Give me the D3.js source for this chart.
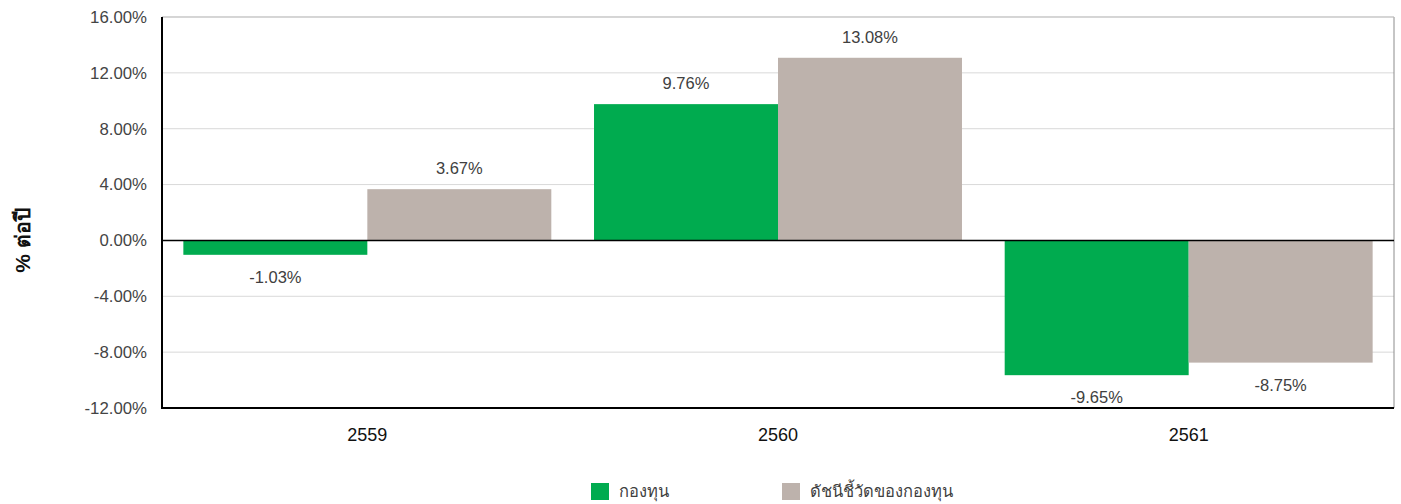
<!DOCTYPE html>
<html>
<head>
<meta charset="utf-8">
<script src="https://cdn.jsdelivr.net/npm/d3@7"></script>
<style>
  html, body { margin: 0; padding: 0; background: #fff; }
  svg { display: block; font-family: "Liberation Sans", Arial, sans-serif; }
</style>
</head>
<body>
<svg id="chart" width="1401" height="504"></svg>
<script>
// Annual returns: fund vs. benchmark
const years = ["2559", "2560", "2561"];
const fundReturns = [-1.03, 9.76, -9.65];
const benchmarkReturns = [3.67, 13.08, -8.75];
const seriesNames = ["กองทุน", "ดัชนีชี้วัดของกองทุน"];
const seriesColors = ["#00ab4f", "#bdb2ac"];
const yTicks = [-12, -8, -4, 0, 4, 8, 12, 16];
const yTitle = "% ต่อปี";

const svg = d3.select("#chart");
const plotL = 162, plotR = 1394, plotT = 17, plotB = 408;

const x0 = d3.scaleBand().domain(years).range([plotL, plotR])
  .paddingInner(0.104).paddingOuter(0.052);
const x1 = d3.scaleBand().domain([0, 1]).range([0, x0.bandwidth()]);
const y = d3.scaleLinear().domain([-12, 16]).range([plotB, plotT]);

// gridlines
svg.append("g").selectAll("line").data(yTicks.filter(t => t !== 0 && t !== -12))
  .join("line")
  .attr("x1", plotL).attr("x2", plotR)
  .attr("y1", d => y(d)).attr("y2", d => y(d))
  .attr("stroke", "#d9d9d9").attr("stroke-width", 1);

// right border
svg.append("line").attr("x1", plotR).attr("x2", plotR)
  .attr("y1", plotT).attr("y2", plotB)
  .attr("stroke", "#8c8c8c").attr("stroke-width", 1);

// y axis labels
const yAxis = d3.axisLeft(y).tickValues(yTicks)
  .tickFormat(d => d.toFixed(2) + "%").tickSize(0).tickPadding(15);
const gy = svg.append("g").attr("transform", `translate(${plotL},0)`).call(yAxis);
gy.select(".domain").remove();
gy.selectAll("text").attr("font-size", 16.8).attr("fill", "#444")
  .attr("font-family", "\"Liberation Sans\", Arial, sans-serif");

// bars
const rows = years.map((yr, i) => ({ yr, vals: [fundReturns[i], benchmarkReturns[i]] }));
const groups = svg.append("g").selectAll("g").data(rows).join("g")
  .attr("transform", d => `translate(${x0(d.yr)},0)`);
groups.selectAll("rect").data(d => d.vals.map((v, k) => ({ v, k })))
  .join("rect")
  .attr("x", d => x1(d.k))
  .attr("width", x1.bandwidth())
  .attr("y", d => y(Math.max(0, d.v)))
  .attr("height", d => Math.abs(y(d.v) - y(0)))
  .attr("fill", d => seriesColors[d.k]);

// value labels
groups.selectAll("text").data(d => d.vals.map((v, k) => ({ v, k })))
  .join("text")
  .attr("x", d => x1(d.k) + x1.bandwidth() / 2)
  .attr("y", d => d.v >= 0 ? y(d.v) - 15 : y(d.v) + 28)
  .attr("text-anchor", "middle")
  .attr("font-size", 16.5).attr("fill", "#404040")
  .text(d => d.v.toFixed(2) + "%");

// top border
svg.append("line").attr("x1", plotL).attr("x2", plotR)
  .attr("y1", plotT).attr("y2", plotT)
  .attr("stroke", "#bfbfbf").attr("stroke-width", 1);

// zero line
svg.append("line").attr("x1", plotL).attr("x2", plotR)
  .attr("y1", y(0)).attr("y2", y(0))
  .attr("stroke", "#000").attr("stroke-width", 1.5);

// left and bottom axis lines
svg.append("line").attr("x1", plotL).attr("x2", plotL)
  .attr("y1", plotT).attr("y2", plotB)
  .attr("stroke", "#000").attr("stroke-width", 2);
svg.append("line").attr("x1", plotL - 1).attr("x2", plotR)
  .attr("y1", plotB).attr("y2", plotB)
  .attr("stroke", "#000").attr("stroke-width", 2);

// x axis labels
const gx = svg.append("g").attr("transform", `translate(0,${plotB})`)
  .call(d3.axisBottom(x0).tickSize(0).tickPadding(20));
gx.select(".domain").remove();
gx.selectAll("text").attr("font-size", 18).attr("fill", "#111")
  .attr("font-family", "\"Liberation Sans\", Arial, sans-serif");

// y title
svg.append("text")
  .attr("transform", `translate(30,${y(0)}) rotate(-90)`)
  .attr("text-anchor", "middle")
  .attr("font-size", 21).attr("font-weight", "bold").attr("fill", "#111")
  .text(yTitle);

// legend
const legendX = [591, 782];
const legend = svg.append("g").selectAll("g").data(seriesNames).join("g")
  .attr("transform", (d, i) => `translate(${legendX[i]},483)`);
legend.append("rect").attr("width", 18).attr("height", 17)
  .attr("fill", (d, i) => seriesColors[i]);
legend.append("text").attr("x", 28).attr("y", 14)
  .attr("font-size", 16.5).attr("fill", "#404040")
  .text(d => d);
</script>
</body>
</html>
